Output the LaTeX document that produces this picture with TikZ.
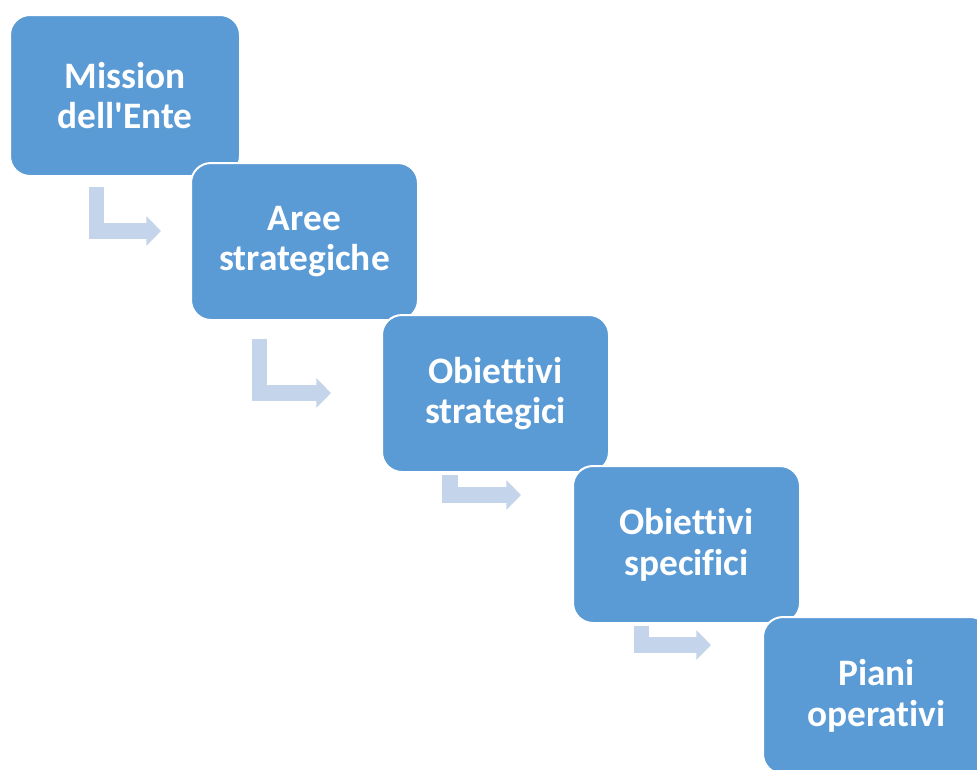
\documentclass[tikz,border=0pt]{standalone}
\usepackage{fontspec}
\newfontfamily\stepfont{Carlito}[Ligatures={NoCommon}]
\usepackage{xcolor}
\usetikzlibrary{arrows.meta}

\definecolor{stepblue}{RGB}{91,155,213}
\definecolor{steparrow}{RGB}{196,212,234}

\begin{document}
\begin{tikzpicture}[x=0.75pt, y=-0.75pt,
  stepbox/.style={rectangle, rounded corners=15pt, fill=stepblue, draw=white,
    line width=1.5pt, text=white, align=center,
    font=\stepfont\fontsize{28}{30.5}\selectfont\bfseries,
    minimum width=170.25pt, minimum height=117.75pt},
  bentarrow/.style={draw=steparrow, line width=11.5pt, line join=miter,
    -{Triangle[width=21.5pt, length=11pt]}}]
 \clip (0, 0) rectangle (977, 769);
 \fill[white] (0, 0) rectangle (977, 769);
 \node[stepbox, minimum width=172.5pt, minimum height=120.75pt] (MISSION) at (125, 95.5) {Mission\\dell'Ente};
 \node[stepbox] (AREE) at (304.5, 241.5) {Aree\\strategiche};
 \node[stepbox] (OBSTRAT) at (495.5, 393.5) {Obiettivi\\strategici};
 \node[stepbox] (OBSPEC) at (686.5, 544.5) {Obiettivi\\specifici};
 \node[stepbox] (PIANI) at (876.5, 695.5) {Piani\\operativi};
 \draw[bentarrow] ([shift={(87.5, 10)}]MISSION.south west) |- ([shift={(-29, -10.5)}]AREE.west);
 \draw[bentarrow] ([shift={(69.5, 18)}]AREE.south west) |- ([shift={(-50, -0.5)}]OBSTRAT.west);
 \draw[bentarrow] ([shift={(69, 2)}]OBSTRAT.south west) |- ([shift={(-51, -49.5)}]OBSPEC.west);
 \draw[bentarrow] ([shift={(69.5, 2)}]OBSPEC.south west) |- ([shift={(-51, -50.5)}]PIANI.west);
\end{tikzpicture}
\end{document}
